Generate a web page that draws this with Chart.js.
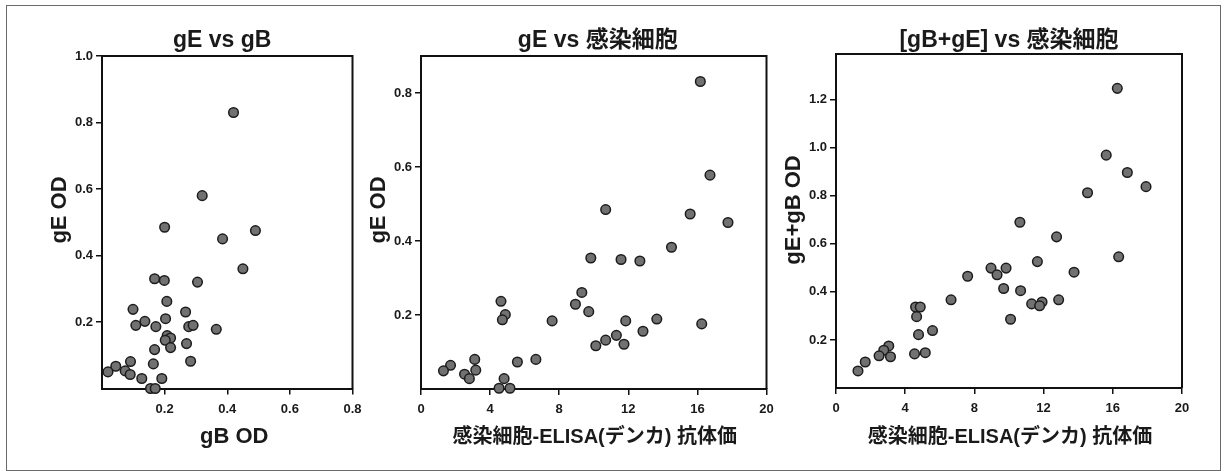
<!DOCTYPE html>
<html>
<head>
<meta charset="utf-8">
<script src="https://cdn.jsdelivr.net/npm/chart.js@4.4.1/dist/chart.umd.min.js"></script>
<style>
  html, body { margin: 0; padding: 0; background: #fff; }
  #wrap { position: relative; width: 1226px; height: 471px; overflow: hidden; background: #fff; }
  #frame { position: absolute; left: 6px; top: 5px; width: 1213px; height: 464px; border: 1px solid #6a6a6a; }
  #wrap canvas { position: absolute; left: 0; top: 0; }
</style>
</head>
<body>
<div id="wrap">
  <div id="frame"></div>
  <canvas id="c1" width="1226" height="471"></canvas>
  <canvas id="c2" width="1226" height="471"></canvas>
  <canvas id="c3" width="1226" height="471"></canvas>
</div>
<script>
// Panel titles and axis titles
const panelTitles = ['gE vs gB', 'gE vs 感染細胞', '[gB+gE] vs 感染細胞'];
const xAxisTitles = ['gB OD', '感染細胞-ELISA(デンカ) 抗体価', '感染細胞-ELISA(デンカ) 抗体価'];
const yAxisTitles = ['gE OD', 'gE OD', 'gE+gB OD'];

// Tick labels
const p1XTicks = [0.2, 0.4, 0.6, 0.8];
const p1YTicks = [0.2, 0.4, 0.6, 0.8, 1.0];
const p2XTicks = [0, 4, 8, 12, 16, 20];
const p2YTicks = [0.2, 0.4, 0.6, 0.8];
const p3XTicks = [0, 4, 8, 12, 16, 20];
const p3YTicks = [0.2, 0.4, 0.6, 0.8, 1.0, 1.2];

// Panel 1: gB OD vs gE OD
const p1gB = [0.42, 0.32, 0.20, 0.49, 0.385, 0.45, 0.168, 0.199, 0.305, 0.207, 0.099, 0.267,
  0.203, 0.137, 0.108, 0.172, 0.277, 0.291, 0.365, 0.208, 0.219, 0.202, 0.27, 0.219, 0.168,
  0.091, 0.283, 0.164, 0.044, 0.019, 0.074, 0.09, 0.127, 0.191, 0.155, 0.17];
const p1gE = [0.83, 0.58, 0.485, 0.475, 0.45, 0.36, 0.33, 0.325, 0.32, 0.262, 0.238, 0.23,
  0.21, 0.202, 0.19, 0.186, 0.186, 0.19, 0.178, 0.159, 0.152, 0.145, 0.135, 0.123, 0.117,
  0.081, 0.082, 0.074, 0.067, 0.05, 0.053, 0.042, 0.03, 0.03, 0.0, 0.0];

// Panel 2: infected-cell ELISA titer vs gE OD
const p2Titer = [16.17, 16.73, 10.69, 15.58, 17.77, 14.5, 9.83, 11.58, 12.67, 9.31, 4.63, 8.94,
  9.71, 4.88, 4.71, 7.59, 11.85, 13.65, 16.25, 12.85, 11.31, 10.69, 10.12, 11.75, 3.11, 6.65,
  5.58, 1.71, 1.30, 3.17, 2.52, 2.80, 4.81, 4.52, 5.15];
const p2gE = [0.831, 0.578, 0.485, 0.473, 0.45, 0.383, 0.354, 0.35, 0.346, 0.261, 0.237, 0.229,
  0.209, 0.201, 0.187, 0.184, 0.184, 0.189, 0.176, 0.156, 0.145, 0.132, 0.117, 0.121, 0.08, 0.08,
  0.073, 0.064, 0.049, 0.051, 0.04, 0.028, 0.028, 0.002, 0.002];

// Panel 3: infected-cell ELISA titer vs gE+gB OD
const p3Titer = [16.26, 15.62, 16.84, 17.92, 14.54, 10.63, 12.75, 16.34, 11.64, 8.96, 9.83, 13.76,
  9.31, 7.61, 9.69, 10.67, 6.65, 12.87, 11.31, 11.91, 11.77, 4.6, 4.87, 4.66, 10.09, 5.58, 4.77,
  5.16, 4.54, 3.05, 2.76, 2.49, 3.15, 1.69, 1.27];
const p3gEgB = [1.247, 0.969, 0.897, 0.838, 0.8125, 0.69, 0.629, 0.546, 0.526, 0.499, 0.499, 0.482,
  0.471, 0.465, 0.414, 0.405, 0.367, 0.367, 0.35, 0.358, 0.342, 0.337, 0.337, 0.297, 0.286, 0.239,
  0.222, 0.147, 0.142, 0.175, 0.157, 0.134, 0.13, 0.108, 0.071];

const FAMILY = "'Liberation Sans', 'Noto Sans CJK JP', Arial, sans-serif";
const INK = '#1a1a1a';
const Y_AXIS_W = 40;
const X_AXIS_H = 30;
const CW = 1226, CH = 471;

// Draws the closing box edges plus the titles of each panel
const panelText = {
  id: 'panelText',
  afterDraw(chart, args, o) {
    const { ctx, chartArea: a } = chart;
    ctx.save();
    ctx.strokeStyle = '#111';
    ctx.lineWidth = 2;
    ctx.beginPath();
    ctx.moveTo(a.left, a.top);
    ctx.lineTo(a.right, a.top);
    ctx.lineTo(a.right, a.bottom);
    ctx.stroke();

    const cx = (a.left + a.right) / 2;
    ctx.fillStyle = INK;
    ctx.textAlign = 'center';
    ctx.textBaseline = 'alphabetic';
    ctx.font = o.titleFont;
    ctx.fillText(o.title, cx + o.titleDx, o.titleY);
    ctx.font = o.xFont;
    ctx.fillText(o.xTitle, cx + o.xTitleDx, o.xTitleY);
    ctx.translate(a.left - o.yTitleGap, o.yTitleY);
    ctx.rotate(-Math.PI / 2);
    ctx.font = o.yFont;
    ctx.fillText(o.yTitle, 0, 0);
    ctx.restore();
  }
};

function makePanel(id, xs, ys, p) {
  const points = xs.map((x, i) => ({ x: x, y: ys[i] }));
  const axisCommon = {
    grid: { display: true, drawOnChartArea: false, drawTicks: true, tickLength: 6, color: '#111', lineWidth: 1.5 },
    border: { display: true, color: '#111', width: 2 }
  };
  return new Chart(document.getElementById(id), {
    type: 'scatter',
    data: {
      datasets: [{
        data: points,
        backgroundColor: '#717171',
        borderColor: '#1c1c1c',
        borderWidth: 1.5,
        pointRadius: 4.8,
        pointHoverRadius: 4.8,
        clip: false
      }]
    },
    options: {
      responsive: false,
      devicePixelRatio: 1,
      animation: false,
      events: [],
      layout: {
        padding: {
          left: p.area.left - Y_AXIS_W,
          right: CW - p.area.right,
          top: p.area.top,
          bottom: CH - p.area.bottom - X_AXIS_H
        }
      },
      plugins: {
        legend: { display: false },
        tooltip: { enabled: false },
        panelText: {
          title: p.title, xTitle: p.xTitle, yTitle: p.yTitle,
          titleFont: 'bold 23px ' + FAMILY,
          xFont: p.xFont,
          yFont: 'bold 22px ' + FAMILY,
          titleDx: p.titleDx, xTitleDx: p.xTitleDx,
          titleY: 47, xTitleY: 443, yTitleY: 210, yTitleGap: 36.5
        }
      },
      scales: {
        x: Object.assign({}, axisCommon, {
          type: 'linear', min: p.xMin, max: p.xMax,
          afterFit: (s) => { s.height = X_AXIS_H; },
          afterBuildTicks: (s) => { s.ticks = p.xTicks.map(v => ({ value: v })); },
          ticks: {
            color: INK, padding: 7, maxRotation: 0, autoSkip: false,
            font: { family: FAMILY, size: 13, weight: 'bold' },
            callback: (v) => Number(v).toFixed(p.xDec)
          }
        }),
        y: Object.assign({}, axisCommon, {
          type: 'linear', min: p.yMin, max: p.yMax,
          afterFit: (s) => { s.width = Y_AXIS_W; },
          afterBuildTicks: (s) => { s.ticks = p.yTicks.map(v => ({ value: v })); },
          ticks: {
            color: INK, padding: 3, autoSkip: false,
            font: { family: FAMILY, size: 13, weight: 'bold' },
            callback: (v) => Number(v).toFixed(p.yDec)
          }
        })
      }
    },
    plugins: [panelText]
  });
}

makePanel('c1', p1gB, p1gE, {
  area: { left: 102, right: 352.5, top: 56, bottom: 388.5 },
  xMin: 0, xMax: 0.8, yMin: 0, yMax: 1.0,
  xTicks: p1XTicks, yTicks: p1YTicks, xDec: 1, yDec: 1,
  title: panelTitles[0], xTitle: xAxisTitles[0], yTitle: yAxisTitles[0],
  xFont: 'bold 22px ' + FAMILY, titleDx: -5, xTitleDx: 7
});

makePanel('c2', p2Titer, p2gE, {
  area: { left: 421, right: 766.5, top: 56, bottom: 389 },
  xMin: 0, xMax: 20, yMin: 0, yMax: 0.9,
  xTicks: p2XTicks, yTicks: p2YTicks, xDec: 0, yDec: 1,
  title: panelTitles[1], xTitle: xAxisTitles[1], yTitle: yAxisTitles[1],
  xFont: 'bold 20px ' + FAMILY, titleDx: 4, xTitleDx: 1
});

makePanel('c3', p3Titer, p3gEgB, {
  area: { left: 836, right: 1182, top: 54, bottom: 388 },
  xMin: 0, xMax: 20, yMin: 0, yMax: 1.39,
  xTicks: p3XTicks, yTicks: p3YTicks, xDec: 0, yDec: 1,
  title: panelTitles[2], xTitle: xAxisTitles[2], yTitle: yAxisTitles[2],
  xFont: 'bold 20px ' + FAMILY, titleDx: 0, xTitleDx: 1
});
</script>
</body>
</html>
